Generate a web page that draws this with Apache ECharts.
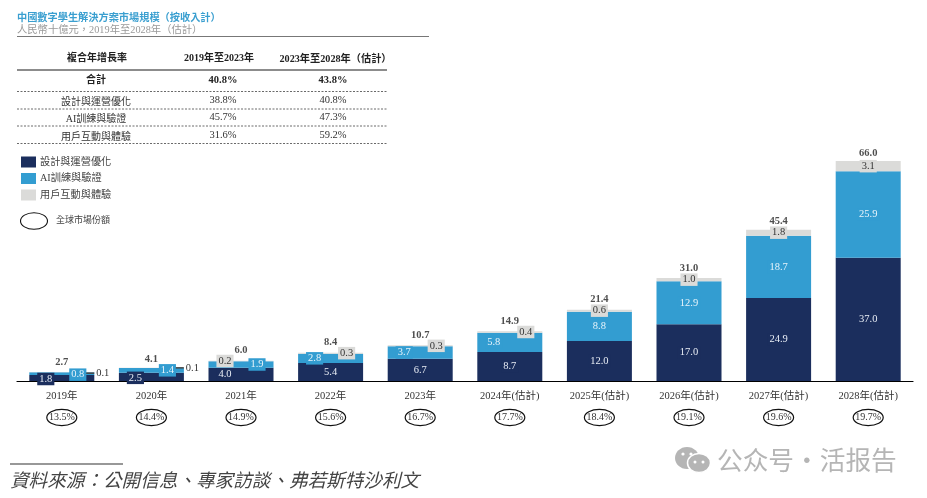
<!DOCTYPE html>
<html>
<head>
<meta charset="utf-8">
<style>
  html, body { margin: 0; padding: 0; background: #fff; }
  #chart { width: 927px; height: 498px; }
</style>
<script src="https://cdn.jsdelivr.net/npm/echarts@6/dist/echarts.min.js"></script>
</head>
<body>
<div id="chart"></div>
<script>
const SERIF = '"Liberation Serif","Noto Sans CJK TC",serif';
const CJK_SANS = '"Noto Sans CJK SC",sans-serif';

// chart data, RMB billion
const years = ["2019年", "2020年", "2021年", "2022年", "2023年", "2024年(估計)", "2025年(估計)", "2026年(估計)", "2027年(估計)", "2028年(估計)"];
const designValues = [1.8, 2.5, 4.0, 5.4, 6.7, 8.7, 12.0, 17.0, 24.9, 37.0];
const aiValues = [0.8, 1.4, 1.9, 2.8, 3.7, 5.8, 8.8, 12.9, 18.7, 25.9];
const userValues = [0.1, 0.1, 0.2, 0.3, 0.3, 0.4, 0.6, 1.0, 1.8, 3.1];
const totalValues = [2.7, 4.1, 6.0, 8.4, 10.7, 14.9, 21.4, 31.0, 45.4, 66.0];
const shareValues = ["13.5%", "14.4%", "14.9%", "15.6%", "16.7%", "17.7%", "18.4%", "19.1%", "19.6%", "19.7%"];

// CAGR table
const cagrHeaders = ["複合年增長率", "2019年至2023年", "2023年至2028年（估計）"];
const cagrNames = ["合計", "設計與運營優化", "AI訓練與驗證", "用戶互動與體驗"];
const cagrEarly = ["40.8%", "38.8%", "45.7%", "31.6%"];
const cagrLate = ["43.8%", "40.8%", "47.3%", "59.2%"];

const seriesNames = ["設計與運營優化", "AI訓練與驗證", "用戶互動與體驗"];

// small bars push their labels sideways so they stay readable
const designOffsets = [[-16, 1], [-16, 1], [-16, 0], [0, 0], [0, 0], [0, 0], [0, 0], [0, 0], [0, 0], [0, 0]];
const aiOffsets = [[16, 1], [16, 0], [16, 0], [-16, 0], [-16, 0], [-16, 0], [0, 0], [0, 0], [0, 0], [0, 0]];
const userOffsets = [[36, 1], [36, 0], [-16, 0], [16, 0], [16, 0], [16, 0], [0, 0], [0, 0], [0, 0], [0, 0]];
const totalDistances = [4, 3, 5, 5, 5, 5, 5, 4, 3, 2.5];
const raisedYears = [5, 7]; // these two tick labels sit a little higher

const NAVY = "#1b2e5d";
const BLUE = "#339dd1";
const GREY = "#dbdbd9";

const barSeries = (name, values, color, textColor, offsets) => ({
  name,
  type: "bar",
  stack: "total",
  barWidth: 65,
  itemStyle: { color },
  data: values.map((value, i) => ({
    value,
    label: {
      show: true,
      position: "inside",
      offset: offsets[i],
      formatter: value.toFixed(1),
      fontFamily: SERIF,
      fontSize: 10.5,
      color: textColor,
      backgroundColor: color,
      padding: [1, 2],
    },
  })),
});

const userSeries = barSeries(seriesNames[2], userValues, GREY, "#333", userOffsets);
// the two tiniest slices get a dash and sit outside the bar
userSeries.data.slice(0, 2).forEach((item) => {
  item.label.formatter = "{dash|}{num|" + item.value.toFixed(1) + "}";
  item.label.backgroundColor = "transparent";
  item.label.rich = {
    dash: { width: 8, height: 1.5, backgroundColor: "#444" },
    num: { fontFamily: SERIF, fontSize: 10.5, color: "#333", padding: [0, 0, 0, 2] },
  };
});

const text = (str, x, y, opts = {}) => ({
  type: "text",
  x,
  y,
  silent: true,
  style: {
    text: str,
    fontFamily: SERIF,
    fontSize: 10,
    fill: "#333",
    textAlign: "center",
    textVerticalAlign: "middle",
    ...opts,
  },
});

const rule = (x1, x2, y, opts = {}) => ({
  type: "line",
  silent: true,
  shape: { x1, y1: y, x2, y2: y },
  style: { stroke: "#555", lineWidth: 1, ...opts },
});

const DASH = { lineDash: [2, 1.5], stroke: "#444", lineWidth: 0.8 };
const rowY = [80, 102.5, 119.5, 137];
const rowValueY = [80.5, 100.5, 117.5, 135.5];
const rowLines = [91.5, 109, 126, 143.5];

const tableGraphics = [
  text("中國數字學生解決方案市場規模（按收入計）", 17, 18, { textAlign: "left", fill: "#3a9fd0", fontWeight: "bold", fontSize: 10.2 }),
  text("人民幣十億元，2019年至2028年（估計）", 17, 30, { textAlign: "left", fill: "#999", fontSize: 10.3 }),
  rule(17, 429, 36.5, { stroke: "#777" }),
  text(cagrHeaders[0], 97, 58, { fontWeight: "bold", fill: "#222", fontSize: 10 }),
  text(cagrHeaders[1], 219, 58.5, { fontWeight: "bold", fill: "#222", fontSize: 10 }),
  text(cagrHeaders[2], 335.5, 59.5, { fontWeight: "bold", fill: "#222", fontSize: 10.2 }),
  rule(17, 387, 70, { stroke: "#666", lineWidth: 1.5 }),
];
cagrNames.forEach((name, i) => {
  const weight = i === 0 ? { fontWeight: "bold", fill: "#222" } : {};
  tableGraphics.push(
    text(name, 96, rowY[i], weight),
    text(cagrEarly[i], 223, rowValueY[i], { fontSize: 10.5, ...weight }),
    text(cagrLate[i], 333, rowValueY[i], { fontSize: 10.5, ...weight }),
    rule(17, 387, rowLines[i], DASH)
  );
});

const watermark = [
  { type: "ellipse", silent: true, shape: { cx: 687, cy: 458, rx: 12, ry: 11 }, style: { fill: "#b5b5b5" } },
  { type: "ellipse", silent: true, shape: { cx: 699, cy: 463, rx: 11.5, ry: 9.5 }, style: { fill: "#b5b5b5", stroke: "#fff", lineWidth: 1.5 } },
  { type: "circle", silent: true, shape: { cx: 683, cy: 454, r: 1.6 }, style: { fill: "#fff" } },
  { type: "circle", silent: true, shape: { cx: 691, cy: 454, r: 1.6 }, style: { fill: "#fff" } },
  { type: "circle", silent: true, shape: { cx: 695, cy: 462, r: 1.5 }, style: { fill: "#fff" } },
  { type: "circle", silent: true, shape: { cx: 703, cy: 462, r: 1.5 }, style: { fill: "#fff" } },
  text("公众号·活报告", 717, 460, { textAlign: "left", fontFamily: CJK_SANS, fontSize: 25.7, fill: "#b5b5b5" }),
];

const chart = echarts.init(document.getElementById("chart"), null, { renderer: "canvas" });

chart.setOption({
  animation: false,
  backgroundColor: "#fff",
  grid: { left: 17, right: 14, top: 161, bottom: 117 },
  legend: {
    left: 21,
    top: 156.5,
    padding: 0,
    orient: "vertical",
    data: seriesNames,
    icon: "rect",
    itemWidth: 15,
    itemHeight: 11,
    itemGap: 5.5,
    selectedMode: false,
    textStyle: { fontFamily: SERIF, fontSize: 10.2, color: "#444", padding: [0, 0, 0, -1] },
  },
  xAxis: {
    type: "category",
    data: years,
    axisTick: { show: false },
    axisLine: { lineStyle: { color: "#000", width: 1.2 } },
    axisLabel: {
      margin: 10.5,
      interval: 0,
      fontFamily: SERIF,
      fontSize: 10.5,
      color: "#333",
      formatter: (v, i) => (raisedYears.includes(i) ? "{up|" + v + "}" : v),
      rich: {
        up: { fontFamily: SERIF, fontSize: 10.5, color: "#333", padding: [0, 0, 6, 0] },
      },
    },
  },
  yAxis: { type: "value", min: 0, max: 66, show: false },
  series: [
    barSeries(seriesNames[0], designValues, NAVY, "#e8edf5", designOffsets),
    barSeries(seriesNames[1], aiValues, BLUE, "#e8f4fb", aiOffsets),
    userSeries,
    {
      name: "total",
      type: "scatter",
      symbolSize: 0,
      z: 5,
      data: totalValues.map((value, i) => ({ value, label: { distance: totalDistances[i] } })),
      label: {
        show: true,
        position: "top",
        formatter: (p) => p.value.toFixed(1),
        fontFamily: SERIF,
        fontWeight: "bold",
        fontSize: 10.5,
        color: "#222",
      },
    },
    {
      // global share ovals hang below the axis at each category
      name: "share",
      type: "custom",
      silent: true,
      data: shareValues.map((v, i) => [i, 0, v]),
      encode: { x: 0, y: 1 },
      renderItem: (params, api) => {
        const pt = api.coord([api.value(0), 0]);
        return {
          type: "group",
          children: [
            {
              type: "ellipse",
              shape: { cx: pt[0], cy: pt[1] + 36.5, rx: 15, ry: 8.2 },
              style: { fill: "#fff", stroke: "#111", lineWidth: 1.2 },
            },
            {
              type: "text",
              x: pt[0],
              y: pt[1] + 36.5,
              style: {
                text: shareValues[params.dataIndex],
                fontFamily: SERIF,
                fontSize: 10,
                fill: "#333",
                textAlign: "center",
                textVerticalAlign: "middle",
              },
            },
          ],
        };
      },
    },
  ],
  graphic: [
    ...tableGraphics,
    { type: "ellipse", silent: true, shape: { cx: 34, cy: 221, rx: 13.5, ry: 8.3 }, style: { fill: "#fff", stroke: "#111", lineWidth: 1.1 } },
    text("全球市場份額", 56, 220.5, { textAlign: "left", fontSize: 9, fill: "#444" }),
    rule(10, 123, 464, { stroke: "#333", lineWidth: 1.2 }),
    text("資料來源：公開信息、專家訪談、弗若斯特沙利文", 10, 482, { textAlign: "left", fontStyle: "italic", fontSize: 18.6, fill: "#444" }),
    ...watermark,
  ],
});
</script>
</body>
</html>
